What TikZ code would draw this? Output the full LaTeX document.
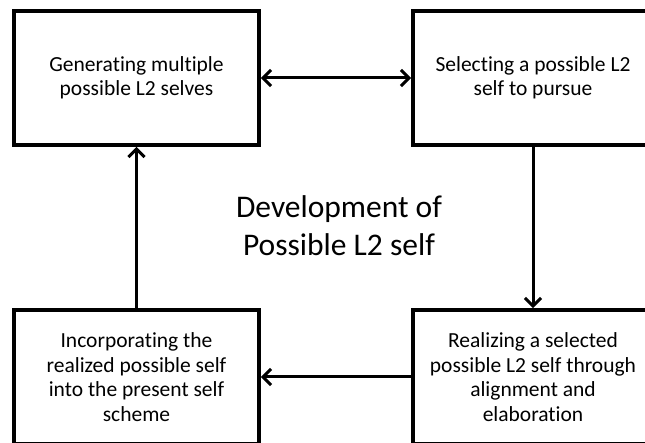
\documentclass[tikz,border=0pt]{standalone}
\usepackage{fontspec}
\setmainfont[Ligatures={NoCommon}]{Carlito}
\usetikzlibrary{arrows.meta}
\tikzset{
  stagebox/.style={draw=black, line width=3.8pt, rectangle, minimum width=245pt, minimum height=134pt, align=center, inner sep=0pt, font=\fontsize{21.5}{24.5}\selectfont},
  barb/.tip={Straight Barb[length=8pt,width=16pt,line width=3pt]},
  flowarrow/.style={line width=3pt, -barb},
  twoarrow/.style={line width=3pt, barb-barb}
}
\begin{document}
\begin{tikzpicture}[x=1pt,y=1pt]
\useasboundingbox (0,0) rectangle (645,443);
\fill[white] (0,0) rectangle (645,443);
\clip (0,0) rectangle (645,443);
\node[stagebox] (gen) at (136.5,365) {Generating multiple\\possible L2 selves};
\node[stagebox, minimum width=240pt] (sel) at (533,365) {Selecting a possible L2\\self to pursue};
\node[stagebox, minimum width=240pt] (real) at (533,66) {Realizing a selected\\possible L2 self through\\alignment and\\elaboration};
\node[stagebox] (inc) at (136.5,66) {Incorporating the\\realized possible self\\into the present self\\scheme};
\node[align=center, font=\fontsize{31.5}{38}\selectfont] (title) at (339,217) {Development of\\Possible L2 self};
\draw[twoarrow] (gen.east) -- (sel.west);
\draw[flowarrow] (sel.south) -- (real.north);
\draw[flowarrow] (real.west) -- (inc.east);
\draw[flowarrow] (inc.north) -- (gen.south);
\end{tikzpicture}
\end{document}
